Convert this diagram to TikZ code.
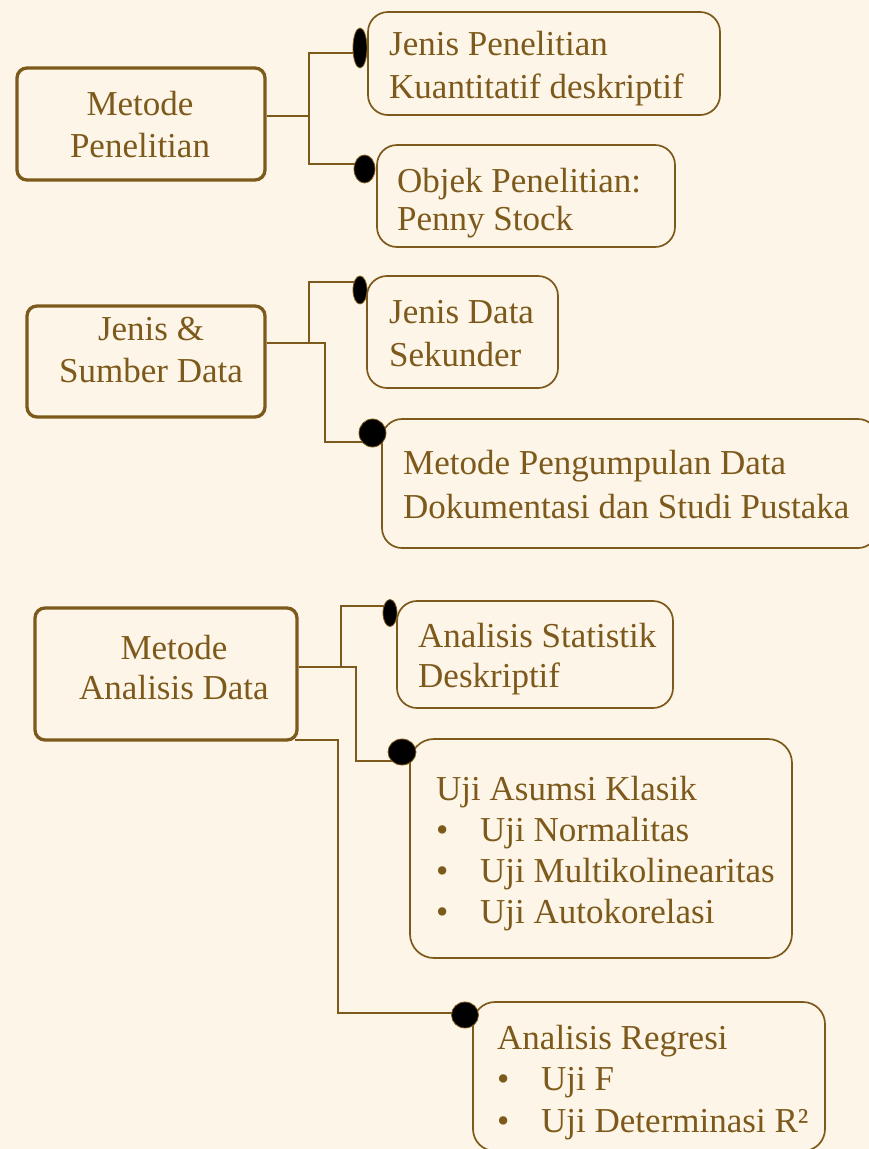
\documentclass[tikz,border=0pt]{standalone}
\usepackage{fontspec}
\setmainfont{Liberation Serif}
\usetikzlibrary{shapes.geometric}
\definecolor{bgc}{HTML}{FDF5E7}
\definecolor{brn}{HTML}{7D5A1C}
\newcommand{\myst}{\rule{0pt}{40pt}}
\newcommand{\myb}{\makebox[44pt][l]{\textbullet}}
\begin{document}
\begin{tikzpicture}[x=1pt,y=-1pt,
  leftbox/.style={draw=brn, line width=3.3pt, rounded corners=10pt, rectangle, inner sep=0pt},
  rightbox/.style={draw=brn, line width=1.7pt, rounded corners=20pt, rectangle, inner sep=0pt},
  conn/.style={draw=brn, line width=1.8pt},
  bigdot/.style={ellipse, fill=black, draw=brn, line width=0.8pt, inner sep=0pt, outer sep=0pt},
  txt/.style={text=brn, inner sep=0pt, font=\fontsize{35}{#1}\selectfont},
  ltxt/.style={txt=#1, align=left, anchor=north west},
  ctxt/.style={txt=#1, align=center, anchor=north}]
\path[use as bounding box, fill=bgc] (0,0) rectangle (869,1149);

% left boxes
\node[leftbox, minimum width=248pt, minimum height=112pt] (mp) at (141,124) {};
\node[leftbox, minimum width=238pt, minimum height=111pt] (js) at (146,361.5) {};
\node[leftbox, minimum width=262pt, minimum height=132pt] (ma) at (166,674) {};
\node[ctxt=42pt] (mpt) at (140,75) {\myst Metode\\Penelitian};
\node[ctxt=42pt] (jst) at (151,300) {\myst Jenis \&\\Sumber Data};
\node[ctxt=40pt] (mat) at (174,619) {\myst Metode\\Analisis Data};

% right boxes
\node[rightbox, minimum width=352pt, minimum height=103pt] (ba) at (544,63.5) {};
\node[rightbox, minimum width=298pt, minimum height=102pt] (bb) at (526,196) {};
\node[rightbox, minimum width=191pt, minimum height=112pt] (bc) at (462.5,332) {};
\node[rightbox, minimum width=496pt, minimum height=129pt] (bd) at (630,483.5) {};
\node[rightbox, minimum width=276pt, minimum height=107pt] (be) at (535,654.5) {};
\node[rightbox, minimum width=382pt, minimum height=219pt, rounded corners=24pt] (bf) at (601,848.5) {};
\node[rightbox, minimum width=352pt, minimum height=149pt, rounded corners=22pt] (bg) at (649,1076.5) {};

\node[ltxt=43pt] (ta) at (389,15) {\myst Jenis Penelitian\\Kuantitatif deskriptif};
\node[ltxt=38pt] (tb) at (397,152) {\myst Objek Penelitian:\\Penny Stock};
\node[ltxt=43pt] (tc) at (389,283) {\myst Jenis Data\\Sekunder};
\node[ltxt=44pt] (td) at (403,434) {\myst Metode Pengumpulan Data\\Dokumentasi dan Studi Pustaka};
\node[ltxt=40pt] (te) at (418,607) {\myst Analisis Statistik\\Deskriptif};
\node[ltxt=41pt] (tf) at (436,760) {\myst Uji Asumsi Klasik\\\myb Uji Normalitas\\\myb Uji Multikolinearitas\\\myb Uji Autokorelasi};
\node[ltxt=41.5pt] (tg) at (497,1009) {\myst Analisis Regresi\\\myb Uji F\\\myb Uji Determinasi R²};

% dots
\node[bigdot, minimum width=14pt, minimum height=40pt] (dA) at (360,48) {};
\node[bigdot, minimum width=21pt, minimum height=28pt] (dB) at (364.5,169) {};
\node[bigdot, minimum width=14pt, minimum height=28pt] (dC) at (360,290) {};
\node[bigdot, minimum width=27pt, minimum height=28pt] (dD) at (372.5,433) {};
\node[bigdot, minimum width=14pt, minimum height=27pt] (dE) at (390,613) {};
\node[bigdot, minimum width=28pt, minimum height=26pt] (dF) at (402,752) {};
\node[bigdot, minimum width=27pt, minimum height=26pt] (dG) at (465,1015) {};

% connectors
\draw[conn] ([yshift=8pt]mp.east) -- ++(42,0) |- (dA.216);
\draw[conn] ([yshift=8pt]mp.east) -- ++(42,0) |- (dB.153);
\draw[conn] ([yshift=18.5pt]js.east) -- ++(42,0) |- (dC.126);
\draw[conn] ([yshift=18.5pt]js.east) -- ++(58,0) |- (dD.221);
\draw[conn] ([yshift=7pt]ma.east) -- ++(42,0) |- (dE.131);
\draw[conn] ([yshift=7pt]ma.east) -- ++(57,0) |- (dF.222);
\draw[conn] ([xshift=-4pt,yshift=2pt]ma.south east) -- ++(43,0) |- (dG.171);
\end{tikzpicture}
\end{document}
